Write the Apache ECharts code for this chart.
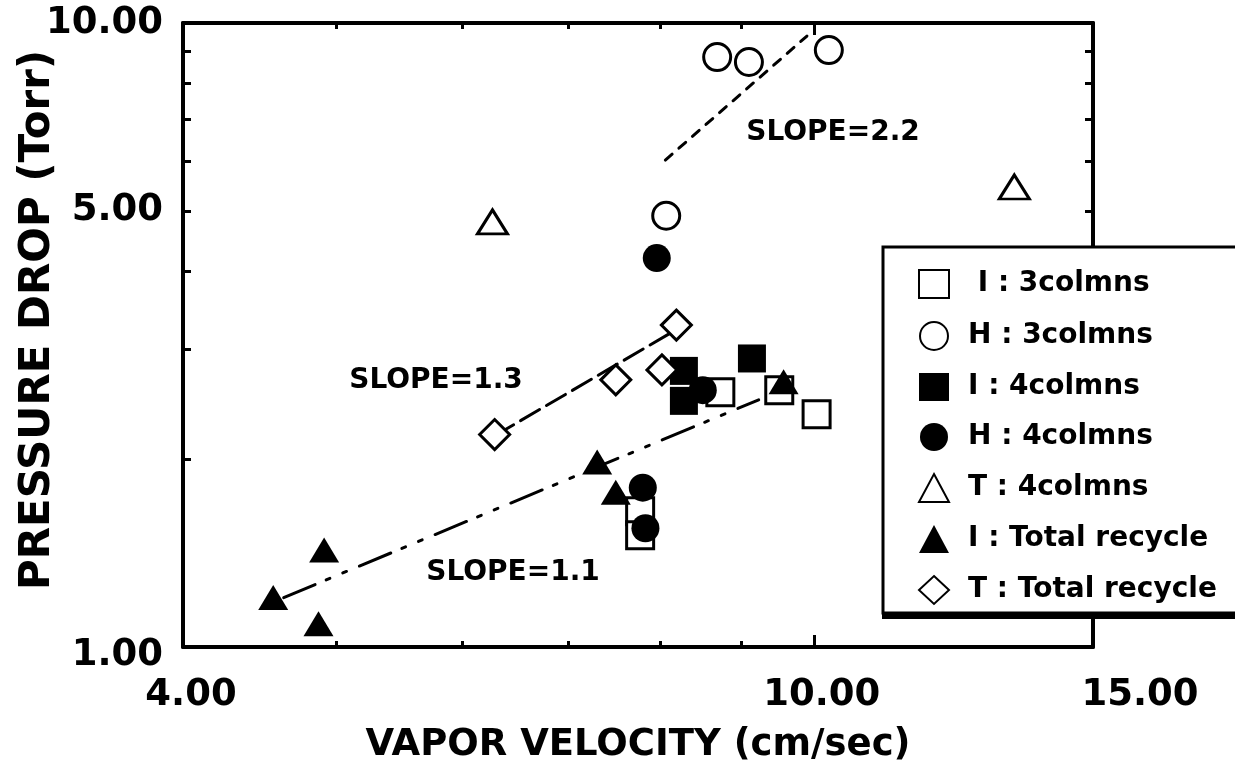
<!DOCTYPE html>
<html>
<head>
<meta charset="utf-8">
<script src="https://cdn.jsdelivr.net/npm/echarts@6/dist/echarts.min.js"></script>
<style>
  html, body { margin: 0; padding: 0; background: #fff; }
  #chart { width: 1235px; height: 767px; }
</style>
</head>
<body>
<div id="chart"></div>
<script>
// axis ticks / labels
const xMinorTicks = [5, 6, 7, 8, 9];
const xMajorTicks = [10];
const xLabelValues = [4, 10, 15];
const yTicks = [2, 3, 4, 5, 6, 7, 8, 9];
const yLabelValues = [1, 5, 10];

// series (vapor velocity cm/sec, pressure drop Torr)
const seriesNames = ['I : 3colmns', 'H : 3colmns', 'I : 4colmns', 'H : 4colmns',
  'T : 4colmns', 'I : Total recycle', 'T : Total recycle'];
const i3 = [[8.73, 2.56], [9.51, 2.58], [10.04, 2.36], [7.77, 1.65], [7.77, 1.51]];
const h3 = [[8.69, 8.82], [9.10, 8.66], [10.22, 9.05], [8.07, 4.91]];
const i4 = [[8.28, 2.77], [8.28, 2.48], [9.14, 2.90]];
const h4 = [[7.96, 4.20], [7.80, 1.80], [7.83, 1.55], [8.51, 2.58]];
const t4 = [[6.27, 4.80], [13.38, 5.46]];
const iTotal = [[4.56, 1.20], [4.91, 1.43], [4.87, 1.09], [7.30, 1.98], [7.50, 1.77], [9.57, 2.66]];
const tTotal = [[6.29, 2.19], [7.50, 2.68], [8.02, 2.78], [8.19, 3.28]];

// fitted lines
const slope22 = [[8.06, 6.03], [9.90, 9.53]];
const slope13 = [[6.29, 2.18], [8.18, 3.22]];
const slope11 = [[4.63, 1.20], [9.23, 2.49]];

const FONT = 'DejaVu Sans';
const chart = echarts.init(document.getElementById('chart'));

function baseX(extra) {
  return Object.assign({
    type: 'log', logBase: 10, min: 4, max: 15,
    splitLine: { show: false },
    axisLine: { show: false },
    axisTick: { show: false },
    axisLabel: { show: false }
  }, extra);
}
function baseY(extra) {
  return Object.assign({
    type: 'log', logBase: 10, min: 1, max: 10,
    splitLine: { show: false },
    axisLine: { show: false },
    axisTick: { show: false },
    axisLabel: { show: false }
  }, extra);
}
const frameLine = { show: true, onZero: false, lineStyle: { color: '#000', width: 4 } };
const tickStyle = { color: '#000', width: 3 };

const hollow = { color: '#fff', borderColor: '#000', borderWidth: 3, opacity: 1 };
const filled = { color: '#000', borderColor: '#000', borderWidth: 0, opacity: 1 };

function scatter(name, data, symbol, size, style) {
  return { name, type: 'scatter', data, symbol, symbolSize: size, itemStyle: style,
    xAxisIndex: 0, yAxisIndex: 0, z: 3 };
}
function fitLine(data, dash) {
  return { type: 'line', data, symbol: 'none', xAxisIndex: 0, yAxisIndex: 0, z: 2,
    lineStyle: { color: '#000', width: 3, type: dash, cap: 'round' } };
}

chart.setOption({
  animation: false,
  grid: { left: 183, right: 142, top: 23, bottom: 120, outerBoundsMode: 'none', containLabel: false },
  xAxis: [
    baseX({
      position: 'bottom',
      axisLine: frameLine,
      axisTick: { show: true, inside: true, length: 6, lineStyle: tickStyle, customValues: xMinorTicks },
      axisLabel: {
        show: true, customValues: xLabelValues, margin: 30,
        formatter: v => (v >= 15 ? '{c|' : '{a|') + v.toFixed(2) + '}',
        rich: {
          a: { fontFamily: FONT, fontWeight: 'bold', fontSize: 37, color: '#000', padding: [0, 0, 0, 16] },
          c: { fontFamily: FONT, fontWeight: 'bold', fontSize: 37, color: '#000', padding: [0, 0, 0, 94] }
        }
      },
      name: 'VAPOR VELOCITY (cm/sec)', nameLocation: 'middle', nameGap: 80, nameMoveOverlap: false,
      nameTextStyle: { fontFamily: FONT, fontWeight: 'bold', fontSize: 37, color: '#000' }
    }),
    baseX({
      position: 'bottom',
      axisTick: { show: true, inside: true, length: 12, lineStyle: tickStyle, customValues: xMajorTicks }
    }),
    baseX({
      position: 'top',
      axisLine: frameLine,
      axisTick: { show: true, inside: true, length: 6, lineStyle: tickStyle, customValues: xMinorTicks }
    }),
    baseX({
      position: 'top',
      axisTick: { show: true, inside: true, length: 12, lineStyle: tickStyle, customValues: xMajorTicks }
    })
  ],
  yAxis: [
    baseY({
      position: 'left',
      axisLine: frameLine,
      axisTick: { show: true, inside: true, length: 8, lineStyle: tickStyle, customValues: yTicks },
      axisLabel: {
        show: true, customValues: yLabelValues, margin: 20,
        formatter: v => (v <= 1 ? '{b|' : '{a|') + v.toFixed(2) + '}',
        rich: {
          a: { fontFamily: FONT, fontWeight: 'bold', fontSize: 37, color: '#000' },
          b: { fontFamily: FONT, fontWeight: 'bold', fontSize: 37, color: '#000', padding: [16, 0, 0, 0] }
        }
      },
      name: 'PRESSURE DROP (Torr)', nameLocation: 'middle', nameGap: 124, nameMoveOverlap: false,
      nameTextStyle: { fontFamily: FONT, fontWeight: 'bold', fontSize: 42, color: '#000',
        padding: [0, 0, 0, 30] }
    }),
    baseY({
      position: 'right',
      axisLine: frameLine,
      axisTick: { show: true, inside: true, length: 8, lineStyle: tickStyle, customValues: yTicks }
    })
  ],
  legend: {
    data: seriesNames,
    orient: 'vertical',
    left: 918, top: 269,
    padding: 0,
    itemWidth: 30, itemHeight: 28, itemGap: 22,
    selectedMode: false,
    z: 20,
    formatter: n => (n === 'I : 3colmns' ? ' ' + n : n),
    textStyle: { fontFamily: FONT, fontWeight: 'bold', fontSize: 28, color: '#000',
      lineHeight: 28, padding: [0, 0, 0, 14] }
  },
  graphic: [
    // legend box with a heavier bottom edge
    { type: 'rect', z: 10, shape: { x: 882, y: 251, width: 420, height: 368 },
      style: { fill: '#000' } },
    { type: 'rect', z: 11, shape: { x: 883, y: 247, width: 420, height: 366 },
      style: { fill: '#fff', stroke: '#000', lineWidth: 3 } },
    { type: 'text', z: 10, style: { text: 'SLOPE=2.2', x: 833, y: 133, align: 'center', verticalAlign: 'middle',
        font: 'bold 28px "DejaVu Sans"', fill: '#000' } },
    { type: 'text', z: 10, style: { text: 'SLOPE=1.3', x: 436, y: 381, align: 'center', verticalAlign: 'middle',
        font: 'bold 28px "DejaVu Sans"', fill: '#000' } },
    { type: 'text', z: 10, style: { text: 'SLOPE=1.1', x: 513, y: 573, align: 'center', verticalAlign: 'middle',
        font: 'bold 28px "DejaVu Sans"', fill: '#000' } }
  ],
  series: [
    fitLine(slope22, [9, 9]),
    fitLine(slope13, [22, 8]),
    fitLine(slope11, [34, 12, 4, 14, 4, 14]),
    scatter(seriesNames[0], i3, 'rect', 27, hollow),
    scatter(seriesNames[1], h3, 'circle', 27, hollow),
    scatter(seriesNames[2], i4, 'rect', 28, filled),
    scatter(seriesNames[3], h4, 'circle', 28, filled),
    scatter(seriesNames[4], t4, 'triangle', [30, 24], hollow),
    scatter(seriesNames[5], iTotal, 'triangle', [30, 25], filled),
    scatter(seriesNames[6], tTotal, 'diamond', 30, hollow)
  ]
});
</script>
</body>
</html>
